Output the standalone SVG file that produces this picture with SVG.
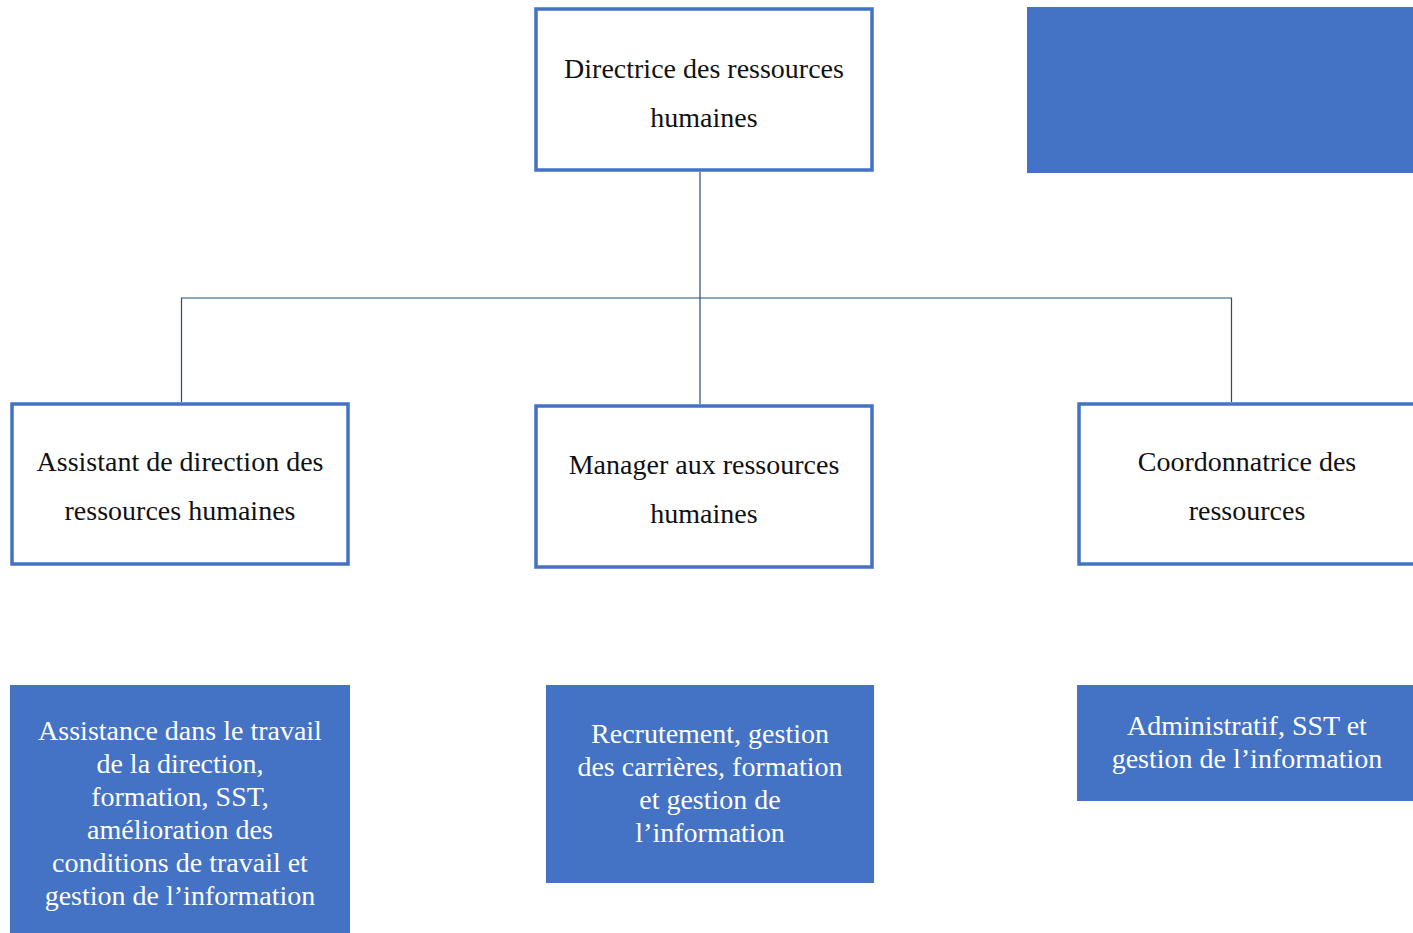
<svg xmlns="http://www.w3.org/2000/svg" width="1413" height="933" viewBox="0 0 1413 933">
<style>
.box{fill:#ffffff;stroke:#4472C4;stroke-width:3.5}
.fill{fill:#4472C4}
.t{font-family:"Liberation Serif","Times New Roman",serif;font-size:28px;fill:#111111;text-anchor:middle}
.w{font-family:"Liberation Serif","Times New Roman",serif;font-size:28px;fill:#ffffff;text-anchor:middle}
.c{fill:none;stroke:#1F4E79;stroke-width:1.2}
</style>
<rect width="1413" height="933" fill="#ffffff"/>
<g id="connectors">
<path class="c" d="M700 172 V298"/>
<path class="c" d="M181.5 402 V298 H1231.5 V402"/>
<path class="c" d="M700 298 V404"/>
</g>
<g id="directrice">
<rect class="box" x="536" y="9" width="336" height="161"/>
<text class="t" x="704" y="78">Directrice des ressources</text>
<text class="t" x="704" y="127">humaines</text>
</g>
<g id="blank">
<rect class="fill" x="1027" y="7" width="386" height="166"/>
</g>
<g id="assistant">
<rect class="box" x="12" y="404" width="336" height="160"/>
<text class="t" x="180" y="471">Assistant de direction des</text>
<text class="t" x="180" y="520">ressources humaines</text>
</g>
<g id="manager">
<rect class="box" x="536" y="406" width="336" height="161"/>
<text class="t" x="704" y="474">Manager aux ressources</text>
<text class="t" x="704" y="523">humaines</text>
</g>
<g id="coordonnatrice">
<rect class="box" x="1079" y="404" width="345" height="160"/>
<text class="t" x="1247" y="471">Coordonnatrice des</text>
<text class="t" x="1247" y="520">ressources</text>
</g>
<g id="desc-assistant">
<rect class="fill" x="10" y="685" width="340" height="260"/>
<text class="w" x="180" y="740">Assistance dans le travail</text>
<text class="w" x="180" y="773">de la direction,</text>
<text class="w" x="180" y="806">formation, SST,</text>
<text class="w" x="180" y="839">amélioration des</text>
<text class="w" x="180" y="872">conditions de travail et</text>
<text class="w" x="180" y="905">gestion de l’information</text>
</g>
<g id="desc-manager">
<rect class="fill" x="546" y="685" width="328" height="198"/>
<text class="w" x="710" y="743">Recrutement, gestion</text>
<text class="w" x="710" y="776">des carrières, formation</text>
<text class="w" x="710" y="809">et gestion de</text>
<text class="w" x="710" y="842">l’information</text>
</g>
<g id="desc-coordonnatrice">
<rect class="fill" x="1077" y="685" width="336" height="116"/>
<text class="w" x="1247" y="735">Administratif, SST et</text>
<text class="w" x="1247" y="768">gestion de l’information</text>
</g>
</svg>
